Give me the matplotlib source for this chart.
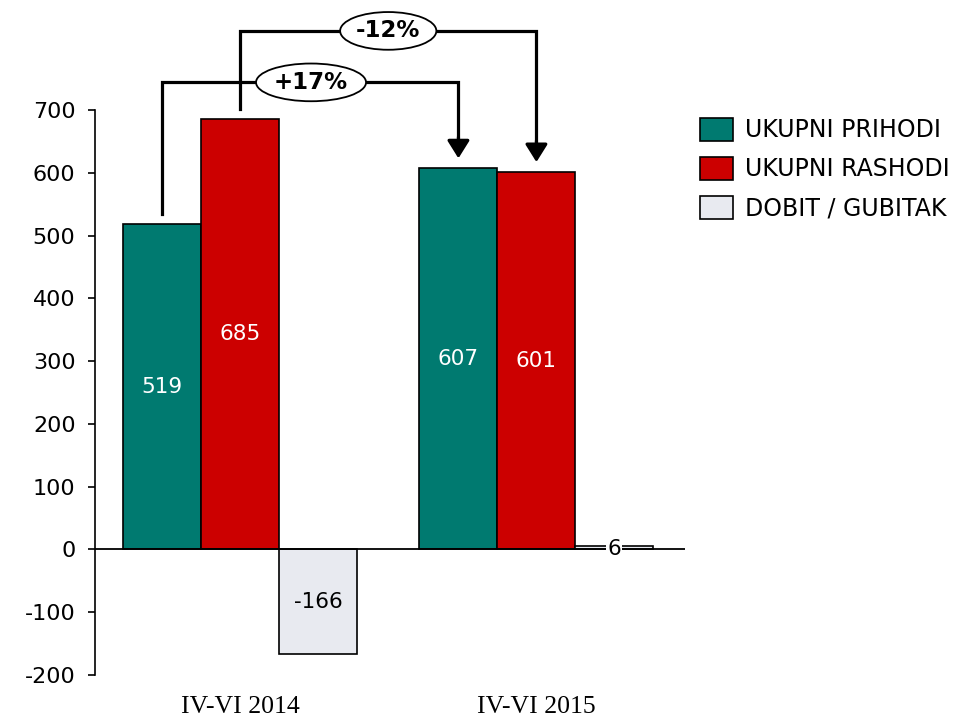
import matplotlib.pyplot as plt
from matplotlib.patches import Patch

# data
periods = ["IV-VI 2014", "IV-VI 2015"]
series = ["UKUPNI PRIHODI", "UKUPNI RASHODI", "DOBIT / GUBITAK"]
prihodi = [519, 607]
rashodi = [685, 601]
dobit = [-166, 6]
changes = ["+17%", "-12%"]

colors = ["#007A70", "#CC0000", "#E8EAF0"]
label_colors = ["white", "white", "black"]

plt.rcParams['font.family'] = ['DejaVu Sans']
plt.rcParams['axes.unicode_minus'] = False

fig = plt.figure(figsize=(9.57, 7.2), dpi=100)
ax = fig.add_axes([95 / 957, 1 - 675 / 720, 590 / 957, 565 / 720])

group_x = [0, 3.8]
offsets = [-1, 0, 1]
values = [prihodi, rashodi, dobit]

for s, vals in enumerate(values):
    xs = [g + offsets[s] for g in group_x]
    ax.bar(xs, vals, width=1, color=colors[s], edgecolor="black", linewidth=1.2, zorder=2)
    for x, v in zip(xs, vals):
        if abs(v) < 50:
            ax.text(x, 0, str(v), ha="center", va="center", fontsize=15.5, color="black",
                    bbox=dict(boxstyle="square,pad=0.05", fc="white", ec="none"), zorder=4)
        else:
            ax.text(x, v / 2, str(v), ha="center", va="center", fontsize=15.5,
                    color=label_colors[s], zorder=3)

ax.axhline(0, color="black", lw=1.3, zorder=3)

ax.set_xlim(-1.86, 5.705)
ax.set_ylim(-200, 700)
ax.set_yticks(range(-200, 701, 100))
ax.tick_params(axis="y", labelsize=16, length=5, width=1.2, direction="out", pad=9)
ax.set_xticks(group_x)
ax.set_xticklabels(periods, family="Liberation Serif", fontsize=18.5)
ax.tick_params(axis="x", length=0, pad=15)
for side in ["top", "right", "bottom"]:
    ax.spines[side].set_visible(False)
ax.spines["left"].set_linewidth(1.2)

# change brackets: (from x, from value, to x, to value, bracket level, label x, label)
gap = 16
brackets = [
    (group_x[0] - 1, prihodi[0], group_x[1] - 1, prihodi[1], 744, 0.91, changes[0]),
    (group_x[0], rashodi[0], group_x[1], rashodi[1], 826, 1.9, changes[1]),
]
for x0, v0, x1, v1, top, lx, lab in brackets:
    ax.plot([x0, x0, x1, x1], [v0 + gap, top, top, v1 + 45], color="black", lw=2.3,
            clip_on=False, zorder=5, solid_joinstyle="miter")
    ax.annotate("", xy=(x1, v1 + gap), xytext=(x1, v1 + 50),
                arrowprops=dict(arrowstyle="-|>,head_length=0.4,head_width=0.25",
                                mutation_scale=27, color="black", lw=2.3, shrinkA=0, shrinkB=0),
                annotation_clip=False, zorder=5)
    ax.text(lx, top, lab, ha="center", va="center", fontsize=16.5, fontweight="bold",
            bbox=dict(boxstyle="ellipse,pad=0.08", fc="white", ec="black", lw=1.3),
            zorder=6, clip_on=False)

handles = [Patch(facecolor=c, edgecolor="black", linewidth=1.2) for c in colors]
fig.legend(handles, series, loc="upper left", bbox_to_anchor=(700 / 957, 1 - 118 / 720),
           frameon=False, fontsize=17, handlelength=1.4, handleheight=1.1,
           handletextpad=0.5, labelspacing=0.62, borderpad=0, borderaxespad=0)

fig.savefig("out.png", dpi=100)
